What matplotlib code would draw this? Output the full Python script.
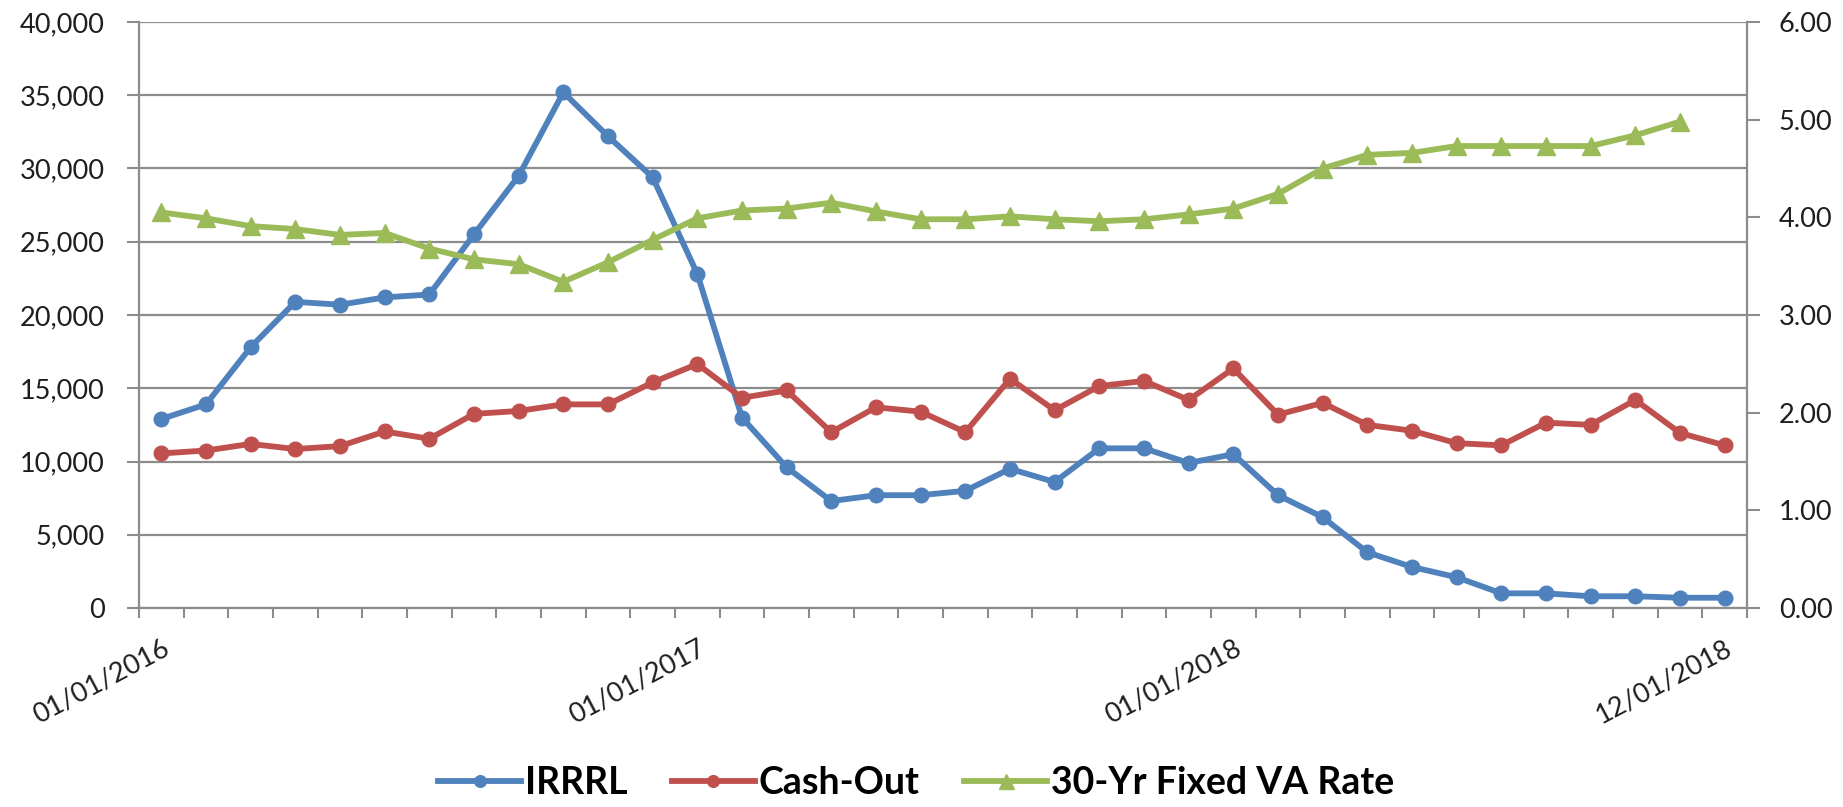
"""VA refinance volumes (IRRRL vs Cash-Out) with the 30-yr fixed VA rate, 2016-2018."""

import matplotlib

matplotlib.use("Agg")
import matplotlib.pyplot as plt
import numpy as np
import pandas as pd
from matplotlib.ticker import FuncFormatter, MultipleLocator

plt.rcParams["font.family"] = ["Lato", "DejaVu Sans"]

months = pd.date_range("2016-01-01", "2018-12-01", freq="MS")

irrrl = [12900, 13900, 17800, 20900, 20700, 21200, 21400, 25500, 29500, 35200,
         32200, 29400, 22800, 13000, 9600, 7300, 7700, 7700, 8000, 9500,
         8600, 10900, 10900, 9900, 10500, 7700, 6200, 3800, 2800, 2100,
         1000, 1000, 800, 800, 700, 700]

cash_out = [10550, 10750, 11200, 10850, 11050, 12050, 11550, 13250, 13450, 13900,
            13900, 15400, 16650, 14350, 14850, 12000, 13700, 13400, 12000, 15650,
            13500, 15150, 15500, 14200, 16350, 13200, 14000, 12500, 12100, 11250,
            11100, 12650, 12500, 14200, 11950, 11100]

# rate series stops one month before the volume series
va_rate = [4.05, 3.99, 3.91, 3.88, 3.82, 3.84, 3.68, 3.57, 3.52, 3.34,
           3.54, 3.77, 3.99, 4.07, 4.09, 4.15, 4.06, 3.98, 3.98, 4.01,
           3.98, 3.96, 3.98, 4.03, 4.09, 4.24, 4.50, 4.64, 4.66, 4.73,
           4.73, 4.73, 4.73, 4.84, 4.98]

label_months = ["2016-01-01", "2017-01-01", "2018-01-01", "2018-12-01"]

BLUE = "#4F81BD"
RED = "#C0504D"
GREEN = "#9BBB59"
GRID = "#8C8C8C"
TEXT = "#1E1E1E"

W, H = 1843, 807
fig = plt.figure(figsize=(W / 100, H / 100), dpi=100)
left, right, top, bottom = 139, 1747, 22, 608
ax = fig.add_axes([left / W, 1 - bottom / H, (right - left) / W, (bottom - top) / H])
ax2 = ax.twinx()

x = np.arange(len(months))
l1, = ax.plot(x, irrrl, color=BLUE, lw=4.2, marker="o", ms=10.5, label="IRRRL", zorder=3)
l2, = ax.plot(x, cash_out, color=RED, lw=4.2, marker="o", ms=10.5, label="Cash-Out", zorder=4)
l3, = ax2.plot(x[:len(va_rate)], va_rate, color=GREEN, lw=4.2, marker="^", ms=13.5,
               label="30-Yr Fixed VA Rate")

ax.set_xlim(-0.5, len(months) - 0.5)
ax.set_ylim(0, 40000)
ax2.set_ylim(0, 6)

ax.yaxis.set_major_locator(MultipleLocator(5000))
ax.yaxis.set_major_formatter(FuncFormatter(lambda v, _: f"{v:,.0f}"))
ax2.yaxis.set_major_locator(MultipleLocator(1))
ax2.yaxis.set_major_formatter(FuncFormatter(lambda v, _: f"{v:.2f}"))

# month boundaries get the small ticks, chosen months get the labels
pos = [list(months).index(pd.Timestamp(m)) for m in label_months]
ax.set_xticks(pos)
ax.set_xticklabels([pd.Timestamp(m).strftime("%m/%d/%Y") for m in label_months])
ax.set_xticks(np.arange(-0.5, len(months)), minor=True)
ax.tick_params(axis="x", which="major", length=0, pad=20, labelsize=19.5, labelcolor=TEXT)
ax.tick_params(axis="x", which="minor", length=7.5, width=1.5, color=GRID, direction="out")
for lbl in ax.get_xticklabels():
    lbl.set_rotation(28)
    lbl.set_ha("right")
    lbl.set_va("top")
    lbl.set_rotation_mode("anchor")

ax.tick_params(axis="y", length=8.5, width=1.5, color=GRID, pad=16, labelsize=19.5, labelcolor=TEXT)
ax2.tick_params(axis="y", length=9, width=1.5, color=GRID, pad=14, labelsize=19.5, labelcolor=TEXT)

ax.grid(axis="y", color=GRID, lw=1.6)
ax.set_axisbelow(True)

for a in (ax, ax2):
    a.spines["top"].set_visible(False)
    for s in ("left", "right", "bottom"):
        a.spines[s].set_color(GRID)
        a.spines[s].set_linewidth(1.6)
ax.spines["right"].set_visible(False)
ax2.spines["left"].set_visible(False)
ax2.spines["bottom"].set_visible(False)

fig.legend(handles=[l1, l2, l3], loc="center", bbox_to_anchor=(0.497, 0.03), ncol=3,
           frameon=False, prop={"weight": "bold", "size": 27}, handlelength=2.2,
           handletextpad=0.1, columnspacing=1.2, markerscale=0.8)

fig.savefig("out.png", dpi=100)
plt.close(fig)
